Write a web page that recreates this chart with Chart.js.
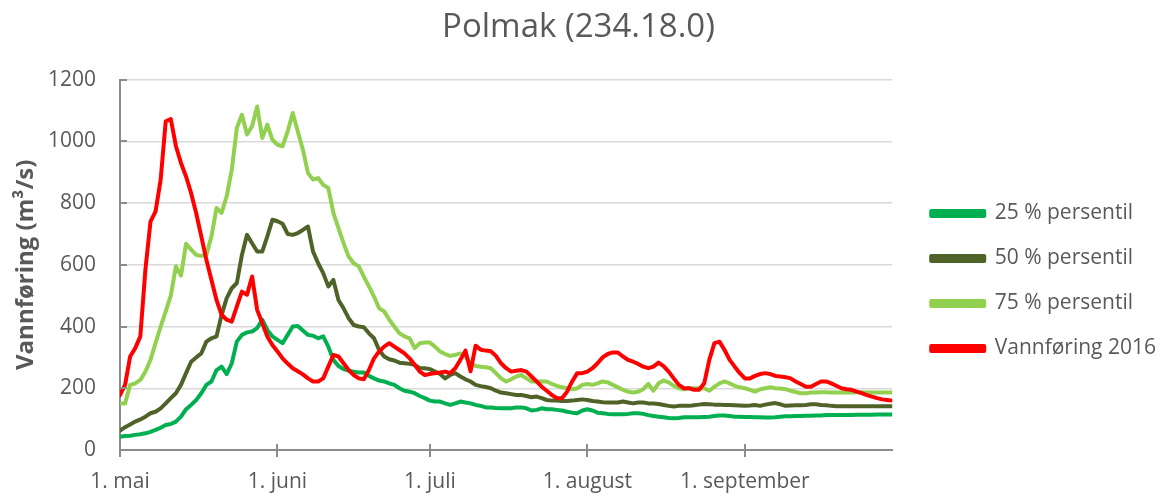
<!DOCTYPE html>
<html>
<head>
<meta charset="utf-8">
<script src="https://cdn.jsdelivr.net/npm/chart.js@4"></script>
<style>
  body { margin: 0; background: #fff; }
  #wrap { width: 1162px; height: 496px; }
</style>
</head>
<body>
<div id="wrap"><canvas id="polmak-chart"></canvas></div>
<script>
// days counted from 1. mai (0) to 30. september (152)
const tickDays = [0, 31, 61, 92, 123];
const tickLabels = ['1. mai', '1. juni', '1. juli', '1. august', '1. september'];
const seriesNames = ['25 % persentil', '50 % persentil', '75 % persentil', 'Vannføring 2016'];

const p25 = [43,45,46,49,51,54,59,65,72,81,
  84,92,108,132,146,162,184,211,222,259,
  270,246,281,351,373,381,384,395,422,389,
  368,357,346,373,400,402,387,373,370,362,
  368,335,292,272,262,257,254,251,251,240,
  232,225,222,216,211,200,192,189,184,175,
  168,160,157,157,151,146,151,157,154,151,
  146,143,138,138,136,135,135,135,138,138,
  135,128,130,135,132,132,130,128,124,121,
  119,128,132,128,121,119,117,116,116,116,
  117,119,119,117,113,110,108,106,104,103,
  104,106,106,106,106,107,108,110,112,112,
  110,108,108,107,107,106,106,105,105,106,
  108,109,109,110,110,111,111,112,112,113,
  113,113,113,113,113,114,114,114,114,115,
  115,115,115];

const p50 = [63,74,83,92,99,108,119,124,135,151,
  168,184,211,249,286,300,313,351,362,368,
  438,492,524,541,632,697,670,643,643,692,
  746,741,733,700,697,703,713,724,643,605,
  573,530,551,486,459,427,405,400,398,378,
  362,324,303,294,290,283,281,279,276,265,
  265,262,254,246,232,243,249,238,229,222,
  211,207,204,200,192,186,184,181,178,178,
  175,171,173,168,162,160,160,159,159,160,
  162,164,162,159,157,155,154,154,154,157,
  154,151,154,154,151,151,149,146,143,141,
  143,143,143,145,147,149,148,147,147,146,
  146,145,144,143,144,146,143,147,150,152,
  148,143,144,145,145,146,148,148,146,145,
  143,142,142,142,142,142,142,142,142,142,
  142,142,142];

const p75 = [151,151,211,216,227,254,292,346,400,449,
  500,595,565,668,649,632,629,632,692,784,
  768,822,908,1043,1086,1022,1049,1113,1011,1054,
  1005,989,984,1032,1092,1032,973,897,876,881,
  859,849,768,719,670,627,605,595,562,530,
  497,459,449,422,400,378,368,362,330,346,
  348,348,335,319,311,305,308,313,303,281,
  272,270,268,265,249,232,222,229,238,243,
  232,222,222,222,222,214,208,203,200,197,
  200,211,214,211,216,222,219,211,203,195,
  189,186,189,197,214,192,216,225,219,208,
  200,197,200,200,200,200,192,205,216,222,
  216,208,203,200,195,189,197,200,203,200,
  199,197,192,188,184,184,186,186,187,187,
  186,186,186,186,186,187,187,186,186,186,
  186,186,186];

const flow2016 = [178,211,303,330,368,584,740,773,875,1065,
  1072,985,930,886,832,767,692,616,551,486,
  438,422,416,465,513,503,562,454,411,368,
  340,319,297,280,265,255,245,232,222,222,
  232,270,308,303,281,259,243,232,229,259,
  297,319,335,346,335,324,313,297,276,254,
  243,246,249,251,254,249,265,292,322,255,
  338,325,322,320,305,281,265,254,257,259,
  254,238,222,205,192,178,168,168,189,222,
  249,249,254,265,281,300,311,316,316,303,
  292,286,279,270,265,270,283,272,254,232,
  211,200,200,195,195,216,292,346,351,324,
  292,270,249,232,232,240,246,249,246,240,
  238,236,232,222,214,205,205,214,222,222,
  216,208,200,197,195,189,184,178,173,168,
  164,162,160];

const colors = ['#00b050', '#4f6228', '#92d050', '#ff0000'];
const allSeries = [p25, p50, p75, flow2016];

const textColor = '#595959';
const axisColor = '#8c8c8c';
const fontFamily = "'Open Sans', sans-serif";

// small tick marks like the original: x ticks cross the axis, y ticks point inwards
const tickMarks = {
  id: 'tickMarks',
  afterDraw(chart) {
    const c = chart.ctx;
    const xs = chart.scales.x, ys = chart.scales.y;
    c.save();
    c.strokeStyle = axisColor;
    c.lineWidth = 2;
    c.beginPath();
    xs.ticks.forEach(t => {
      const px = Math.round(xs.getPixelForValue(t.value));
      c.moveTo(px, ys.bottom - 6);
      c.lineTo(px, ys.bottom + 7);
    });
    ys.ticks.forEach(t => {
      const py = Math.round(ys.getPixelForValue(t.value));
      c.moveTo(xs.left, py);
      c.lineTo(xs.left + 7, py);
    });
    c.stroke();
    c.restore();
  }
};

// empty box between plot and legend, to leave a gap like the original
const legendGap = {
  id: 'legendGap',
  beforeInit(chart) {
    Chart.layouts.addBox(chart, {
      position: 'right',
      weight: 0,
      fullSize: false,
      options: {},
      width: 0,
      height: 0,
      isHorizontal() { return false; },
      update(maxWidth, maxHeight) { this.width = 15; this.height = maxHeight; },
      getPadding() { return { left: 0, right: 0, top: 0, bottom: 0 }; },
      draw() {}
    });
  }
};

const ctx = document.getElementById('polmak-chart').getContext('2d');

const polmakChart = new Chart(ctx, {
  type: 'line',
  data: {
    datasets: allSeries.map((vals, i) => ({
      label: seriesNames[i],
      data: vals.map((v, d) => ({ x: d, y: v })),
      borderColor: colors[i],
      backgroundColor: colors[i],
      borderWidth: 4,
      pointRadius: 0,
      tension: 0,
      borderJoinStyle: 'round',
      borderCapStyle: 'round',
      order: 3 - i
    }))
  },
  options: {
    responsive: true,
    maintainAspectRatio: false,
    animation: false,
    layout: { padding: { left: -9, right: -4, top: 0, bottom: 0 } },
    plugins: {
      title: {
        display: true,
        text: 'Polmak (234.18.0)',
        color: textColor,
        font: { family: fontFamily, size: 33, weight: 'normal' },
        padding: { top: 8, bottom: 32 }
      },
      legend: {
        position: 'right',
        maxWidth: 320,
        title: {
          display: true,
          text: ' ',
          font: { family: fontFamily, size: 20 },
          padding: { top: 0, bottom: 42 }
        },
        labels: {
          color: textColor,
          font: { family: fontFamily, size: 21 },
          boxWidth: 53,
          boxHeight: 5,
          padding: 24,
          sort: (a, b) => a.datasetIndex - b.datasetIndex
        }
      },
      tooltip: { enabled: false }
    },
    scales: {
      x: {
        type: 'linear',
        min: 0,
        max: 152,
        afterBuildTicks: scale => {
          scale.ticks = tickDays.map(v => ({ value: v }));
        },
        afterFit: scale => { scale.height = 46; },
        ticks: {
          autoSkip: false,
          maxRotation: 0,
          color: textColor,
          font: { family: fontFamily, size: 21 },
          padding: 19,
          callback: v => tickLabels[tickDays.indexOf(v)]
        },
        grid: { drawOnChartArea: false, drawTicks: false },
        border: { display: true, color: axisColor, width: 2 }
      },
      y: {
        min: 0,
        max: 1200,
        afterFit: scale => { scale.width = 129; },
        ticks: {
          stepSize: 200,
          color: textColor,
          font: { family: fontFamily, size: 21 },
          padding: 24,
          callback: v => String(v)
        },
        grid: { color: '#d9d9d9', lineWidth: 1.5, drawTicks: false },
        border: { display: true, color: axisColor, width: 2 },
        title: {
          display: true,
          text: 'Vannføring (m³/s)',
          color: textColor,
          font: { family: fontFamily, size: 24, weight: 'bold' },
          padding: { top: 21, bottom: 0 }
        }
      }
    }
  },
  plugins: [tickMarks, legendGap]
});
</script>
</body>
</html>
